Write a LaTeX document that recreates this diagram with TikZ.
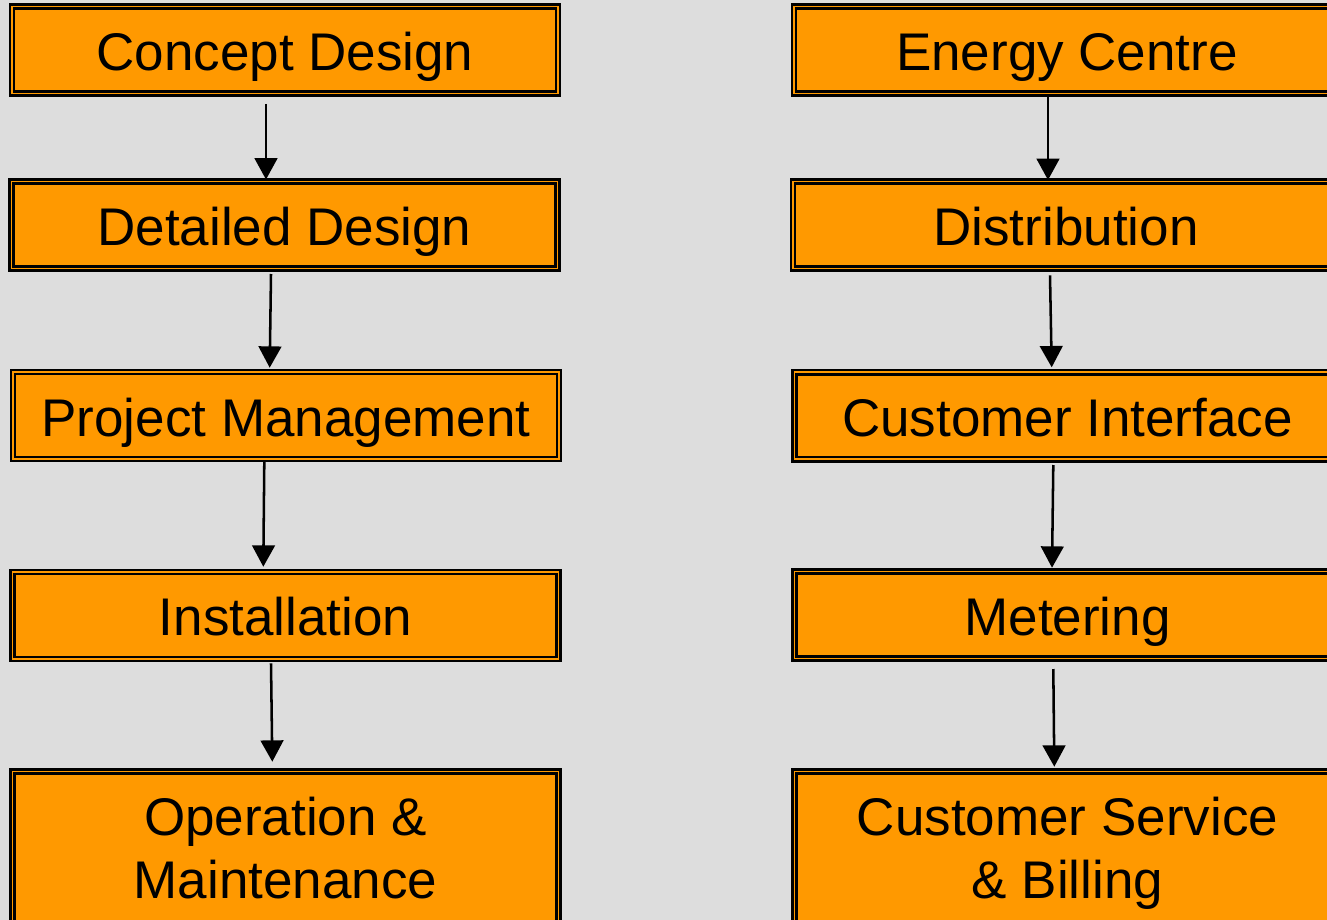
\documentclass[tikz,border=0pt]{standalone}
\usepackage{fontspec}
\setmainfont{Liberation Sans}
\usetikzlibrary{arrows.meta}
\definecolor{bg}{HTML}{DDDDDD}
\definecolor{boxorange}{HTML}{FF9900}
\begin{document}
\begin{tikzpicture}[x=0.75pt,y=-0.75pt,
  box/.style={rectangle, draw=black, line width=1.7pt, double=boxorange, double distance=1.4pt,
    fill=boxorange, inner sep=0pt, outer sep=0pt, minimum width=409.5pt, minimum height=65.25pt,
    font=\fontsize{39.75}{47.25}\selectfont, text height=30.75pt, text depth=0pt},
  tall/.style={minimum height=115.5pt, align=center, text height=74.25pt, text depth=0pt},
  arr/.style={-{Triangle[width=17pt,length=16pt]}, line width=1.9pt, draw=black}]
\useasboundingbox (0,0) rectangle (1327,920);
\clip (0,0) rectangle (1327,920);
\fill[bg] (0,0) rectangle (1327,920);
% left column
\node[box] (cd)   at (285,50)     {Concept Design};
\node[box] (dd)   at (284.5,225)  {Detailed Design};
\node[box] (pm)   at (286,415.5)  {Project Management};
\node[box] (inst) at (285.5,615.3){Installation};
\node[box,tall] (om) at (285.5,848.5) {Operation \&\\Maintenance};
% right column
\node[box] (ec)   at (1067,50)     {Energy Centre};
\node[box] (dist) at (1066,225)    {Distribution};
\node[box] (ci)   at (1067.5,415.8){Customer Interface};
\node[box] (met)  at (1067.5,615)  {Metering};
\node[box,tall] (csb) at (1067.5,848.5) {Customer Service\\\& Billing};
% arrows left
\draw[arr] ([shift={(-19,10.5)}]cd.south) -- ([shift={(-18.5,-2)}]dd.north);
\draw[arr] ([shift={(-13.5,5.5)}]dd.south) -- ([shift={(-16.3,-4.3)}]pm.north);
\draw[arr] ([shift={(-21.7,3)}]pm.south) -- ([shift={(-22.2,-5.1)}]inst.north);
\draw[arr] ([shift={(-14.5,4.5)}]inst.south) -- ([shift={(-13.2,-9.8)}]om.north);
% arrows right
\draw[arr] ([shift={(-19,3.5)}]ec.south) -- ([shift={(-18,-1.5)}]dist.north);
\draw[arr] ([shift={(-16,6.8)}]dist.south) -- ([shift={(-15.8,-5)}]ci.north);
\draw[arr] ([shift={(-14.2,5.7)}]ci.south) -- ([shift={(-15.5,-3.8)}]met.north);
\draw[arr] ([shift={(-14.2,10.5)}]met.south) -- ([shift={(-13.2,-4.8)}]csb.north);
\end{tikzpicture}
\end{document}
